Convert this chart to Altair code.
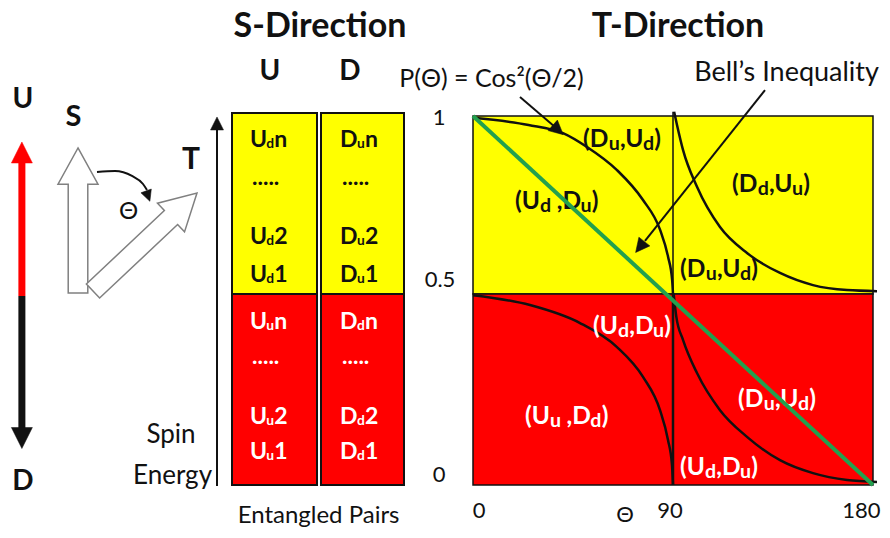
import altair as alt
import pandas as pd

FONT = "Lato, 'Noto Sans', 'DejaVu Sans', sans-serif"
INK = "#111111"
YELLOW = "#FFFF00"
RED = "#FF0000"
GREEN = "#23A04E"
GREY = "#808080"

# ---------------- data (x = Θ in degrees, y = probability P) ----------------
panel_theta = [0, 90, 180]
panel_p = [0, 0.5, 1]

cos_upper_theta = [0, 25, 40.5, 51.3, 64.8, 76.5, 84.2, 87.8, 89.6, 90]
cos_upper_p = [0.995, 0.975, 0.952, 0.913, 0.848, 0.764, 0.68, 0.604, 0.54, 0.5]
cos_lower_theta = [0, 25.65, 48.15, 64.8, 76.5, 84.15, 87.75, 89.55, 90]
cos_lower_p = [0.497, 0.471, 0.424, 0.361, 0.283, 0.196, 0.118, 0.052, 0.0]
bell_upper_theta = [90.5, 91.8, 94.5, 100.8, 111.15, 123.3, 138.15, 153, 168.3, 181.8]
bell_upper_p = [1.012, 0.975, 0.905, 0.801, 0.688, 0.615, 0.559, 0.525, 0.511, 0.508]
bell_lower_theta = [90.3, 91.5, 94.5, 100.8, 111.15, 123.3, 138.15, 153, 168.3, 181.8]
bell_lower_p = [0.5, 0.44, 0.38, 0.293, 0.196, 0.126, 0.065, 0.031, 0.013, 0.008]
diag_theta = [0, 180]
diag_p = [1, 0]

# entangled-pair columns (S-direction), expressed on the same axes
box_u_theta = [-108.45, -70.2]
box_d_theta = [-68.4, -31.05]
box_top_p = 1.0084

box_labels = [
    ([("U", 0), ("d", 1), ("n", 0)], -100.35, 0.9326, INK),
    ([(".....", 0)], -99.45, 0.8258, INK),
    ([("U", 0), ("d", 1), ("2", 0)], -100.35, 0.660, INK),
    ([("U", 0), ("d", 1), ("1", 0)], -100.35, 0.5534, INK),
    ([("D", 0), ("u", 1), ("n", 0)], -59.85, 0.9326, INK),
    ([(".....", 0)], -58.95, 0.8258, INK),
    ([("D", 0), ("u", 1), ("2", 0)], -59.85, 0.660, INK),
    ([("D", 0), ("u", 1), ("1", 0)], -59.85, 0.5534, INK),
    ([("U", 0), ("u", 1), ("n", 0)], -100.35, 0.4267, "white"),
    ([(".....", 0)], -99.45, 0.3338, "white"),
    ([("U", 0), ("u", 1), ("2", 0)], -100.35, 0.178, "white"),
    ([("U", 0), ("u", 1), ("1", 0)], -100.35, 0.0864, "white"),
    ([("D", 0), ("d", 1), ("n", 0)], -59.85, 0.4267, "white"),
    ([(".....", 0)], -58.95, 0.3338, "white"),
    ([("D", 0), ("d", 1), ("2", 0)], -59.85, 0.178, "white"),
    ([("D", 0), ("d", 1), ("1", 0)], -59.85, 0.0864, "white"),
]

region_labels = [
    ([("(D", 0), ("u", 1), (",U", 0), ("d", 1), (")", 0)], 49.5, 0.9326, INK),
    ([("(U", 0), ("d", 1), (" ,D", 0), ("u", 1), (")", 0)], 18.9, 0.7584, INK),
    ([("(D", 0), ("d", 1), (",U", 0), ("u", 1), (")", 0)], 116.55, 0.8062, INK),
    ([("(D", 0), ("u", 1), (",U", 0), ("d", 1), (")", 0)], 93.15, 0.5674, INK),
    ([("(U", 0), ("d", 1), (",D", 0), ("u", 1), (")", 0)], 54.0, 0.4136, "white"),
    ([("(U", 0), ("u", 1), (" ,D", 0), ("d", 1), (")", 0)], 23.4, 0.178, "white"),
    ([("(D", 0), ("u", 1), (",U", 0), ("d", 1), (")", 0)], 119.25, 0.2225, "white"),
    ([("(U", 0), ("d", 1), (",D", 0), ("u", 1), (")", 0)], 93.15, 0.0445, "white"),
]

bold_texts = [
    ("S-Direction", -68.85, 1.2514, 34),
    ("T-Direction", 92.25, 1.2514, 34),
    ("U", -91.35, 1.1236, 28),
    ("D", -55.35, 1.1236, 28),
    ("U", -202.5, 1.045, 28),
    ("D", -202.5, 0.0079, 28),
    ("S", -179.8, 0.9958, 29),
    ("T", -126.9, 0.876, 30),
]
regular_texts = [
    ("P(Θ) = Cos²(Θ/2)", 8.33, 1.104, 25, "center"),
    ("Bell’s Inequality", 141.1, 1.1194, 27, "center"),
    ("1", -15.3, 0.993, 22, "center"),
    ("0.5", -14.85, 0.539, 22, "center"),
    ("0", -15.3, 0.026, 22, "center"),
    ("0", 2.7, -0.068, 22, "center"),
    ("Θ", 68.4, -0.0785, 22, "center"),
    ("90", 88.65, -0.068, 22, "center"),
    ("180", 183.4, -0.068, 22, "right"),
    ("Entangled Pairs", -69.5, -0.0812, 24, "center"),
    ("Spin", -135.9, 0.131, 26, "center"),
    ("Energy", -135.2, 0.0236, 26, "center"),
    ("Θ", -155.0, 0.729, 24, "center"),
]

# ---------------- scales ----------------
XS = alt.Scale(domain=[0, 180], range=[465, 865])
YS = alt.Scale(domain=[0, 0.5, 1], range=[477, 286, 108])
X = alt.X("x:Q", scale=XS, axis=None)
Y = alt.Y("y:Q", scale=YS, axis=None)
X2 = alt.X2("x2:Q")
Y2 = alt.Y2("y2:Q")

# ---------------- rects ----------------
rects = pd.DataFrame([
    dict(x=panel_theta[0], x2=panel_theta[2], y=panel_p[1], y2=panel_p[2], fill=YELLOW, sw=1.5),
    dict(x=panel_theta[0], x2=panel_theta[2], y=panel_p[0], y2=panel_p[1], fill=RED, sw=1.5),
    dict(x=box_u_theta[0], x2=box_u_theta[1], y=0.5, y2=box_top_p, fill=YELLOW, sw=2),
    dict(x=box_u_theta[0], x2=box_u_theta[1], y=0.0, y2=0.5, fill=RED, sw=2),
    dict(x=box_d_theta[0], x2=box_d_theta[1], y=0.5, y2=box_top_p, fill=YELLOW, sw=2),
    dict(x=box_d_theta[0], x2=box_d_theta[1], y=0.0, y2=0.5, fill=RED, sw=2),
])
rect_layer = alt.Chart(rects).mark_rect(stroke=INK).encode(
    x=X, x2=X2, y=Y, y2=Y2,
    fill=alt.Fill("fill:N", scale=None),
    strokeWidth=alt.StrokeWidth("sw:Q", scale=None),
)

# ---------------- lines ----------------
line_rows = []
def add_line(name, xs, ys, color, sw):
    for i, (a, b) in enumerate(zip(xs, ys)):
        line_rows.append(dict(id=name, o=i, x=a, y=b, stroke=color, sw=sw))

add_line("cosU", cos_upper_theta, cos_upper_p, INK, 2.5)
add_line("cosL", cos_lower_theta, cos_lower_p, INK, 2.5)
add_line("bellU", bell_upper_theta, bell_upper_p, INK, 2.5)
add_line("bellL", bell_lower_theta, bell_lower_p, INK, 2.5)
add_line("lead1", [21.15, 36.9], [1.0534, 0.969], INK, 2)
add_line("lead2", [131.4, 77.4], [1.073, 0.6489], INK, 2)
add_line("arc", [-169.2, -161.1, -153.45, -148.5, -146.7], [0.8427, 0.8455, 0.8315, 0.809, 0.792], INK, 2)
lines = pd.DataFrame(line_rows)
line_layer = alt.Chart(lines).mark_line(interpolate="monotone").encode(
    x=X, y=Y, detail="id:N", order="o:Q",
    color=alt.Color("stroke:N", scale=None),
    strokeWidth=alt.StrokeWidth("sw:Q", scale=None),
)

rules = pd.DataFrame([
    dict(x=90, x2=90, y=0.5, y2=1.012, stroke=INK, sw=1.5),
    dict(x=90, x2=90, y=0.0, y2=0.5, stroke=INK, sw=2.5),
    dict(x=-203, x2=-203, y=0.495, y2=0.876, stroke=RED, sw=7),
    dict(x=-203, x2=-203, y=0.144, y2=0.495, stroke=INK, sw=7),
    dict(x=-115.2, x2=-115.2, y=-0.0026, y2=0.966, stroke=INK, sw=2),
])
rule_layer = alt.Chart(rules).mark_rule().encode(
    x=X, x2=X2, y=Y, y2=Y2,
    color=alt.Color("stroke:N", scale=None),
    strokeWidth=alt.StrokeWidth("sw:Q", scale=None),
)

diag = pd.DataFrame([dict(x=diag_theta[0], x2=diag_theta[1], y=diag_p[0], y2=diag_p[1])])
diag_layer = alt.Chart(diag).mark_rule(color=GREEN, strokeWidth=4).encode(x=X, x2=X2, y=Y, y2=Y2)

# ---------------- arrow heads & block arrows ----------------
TRI = "M0,-1L1,1L-1,1Z"
BLOCK = "M0,-1L0.276,-0.5L0.135,-0.5L0.135,1L-0.135,1L-0.135,-0.5L-0.276,-0.5Z"
pts = pd.DataFrame([
    dict(x=-203, y=0.8975, shape=TRI, size=441, angle=0, fill=RED, stroke=RED, sw=0.5),
    dict(x=-203, y=0.123, shape=TRI, size=441, angle=180, fill=INK, stroke=INK, sw=0.5),
    dict(x=-115.2, y=0.979, shape=TRI, size=169, angle=0, fill=INK, stroke=INK, sw=0.5),
    dict(x=-146.25, y=0.775, shape=TRI, size=121, angle=160, fill=INK, stroke=INK, sw=0.5),
    dict(x=38.25, y=0.9607, shape=TRI, size=196, angle=131.5, fill=INK, stroke=INK, sw=0.5),
    dict(x=75.15, y=0.632, shape=TRI, size=196, angle=218.6, fill=INK, stroke=INK, sw=0.5),
    dict(x=-177.75, y=0.7065, shape=BLOCK, size=21025, angle=0, fill="white", stroke=GREY, sw=1.5),
    dict(x=-147.6, y=0.646, shape=BLOCK, size=20420, angle=46.7, fill="white", stroke=GREY, sw=1.5),
])
pt_layer = alt.Chart(pts).mark_point(filled=True, opacity=1).encode(
    x=X, y=Y,
    shape=alt.Shape("shape:N", scale=None),
    size=alt.Size("size:Q", scale=None),
    angle=alt.Angle("angle:Q", scale=None),
    fill=alt.Fill("fill:N", scale=None),
    stroke=alt.Stroke("stroke:N", scale=None),
    strokeWidth=alt.StrokeWidth("sw:Q", scale=None),
)

# ---------------- texts ----------------
W = {"(": 0.31, ")": 0.31, ",": 0.23, ".": 0.24, "D": 0.74, "U": 0.71,
     "u": 0.57, "d": 0.58, "n": 0.57, "1": 0.58, "2": 0.58, " ": 0.22}
PX = 0.45  # Θ-units per screen pixel

seg_rows = []
def add_segments(labels, fs, ratio):
    for parts, x0, y0, color in labels:
        cur = 0.0
        for txt, sub in parts:
            s = fs * ratio if sub else fs
            lead = len(txt) - len(txt.lstrip(" "))
            cur += lead * W[" "] * s
            body = txt.lstrip(" ")
            seg_rows.append(dict(x=x0 + cur * PX, y=y0, text=body, size=s, color=color, sub=sub))
            cur += sum(W.get(c, 0.55) for c in body) * s

add_segments(box_labels, 23, 0.6)
add_segments(region_labels, 24.5, 0.8)
segs = pd.DataFrame(seg_rows)

def text_layer(df, weight, align="center", dy=0):
    return alt.Chart(df).mark_text(font=FONT, fontWeight=weight, align=align,
                                   baseline="middle", dy=dy).encode(
        x=X, y=Y, text="text:N",
        size=alt.Size("size:Q", scale=None),
        color=alt.Color("color:N", scale=None),
    )

seg_main = text_layer(segs[segs["sub"] == 0], "bold", align="left")
seg_sub = text_layer(segs[segs["sub"] == 1], "bold", align="left", dy=4)

bold_df = pd.DataFrame([dict(text=t, x=a, y=b, size=s, color=INK) for t, a, b, s in bold_texts])
reg_df = pd.DataFrame([dict(text=t, x=a, y=b, size=s, color=INK, al=al) for t, a, b, s, al in regular_texts])
bold_layer = text_layer(bold_df, "bold")
reg_center = text_layer(reg_df[reg_df["al"] == "center"], "normal")
reg_right = text_layer(reg_df[reg_df["al"] == "right"], "normal", align="right")

chart = alt.layer(
    rect_layer, line_layer, rule_layer, seg_main, seg_sub, diag_layer, pt_layer,
    bold_layer, reg_center, reg_right
).properties(
    width=874, height=522, padding=0, autosize=alt.AutoSizeParams(type="none"),
    background="white",
).configure_view(stroke=None)

chart.save("out.html", embed_options={"renderer": "svg", "actions": False})
